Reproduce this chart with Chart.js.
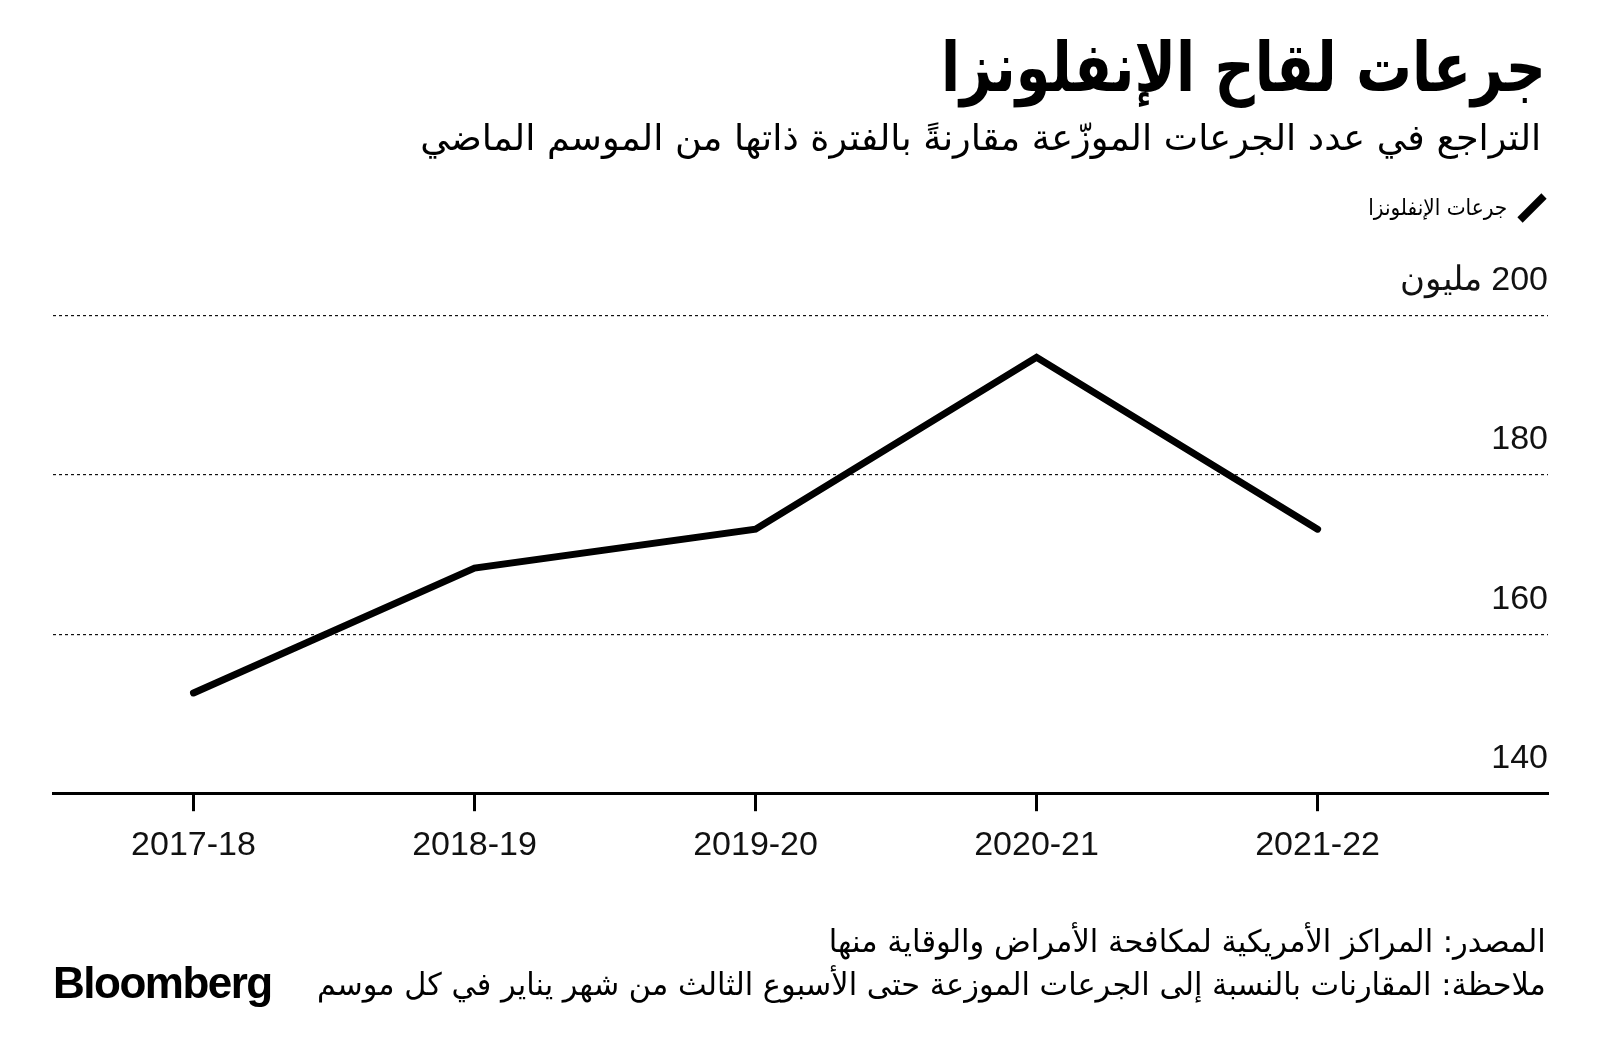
<!DOCTYPE html>
<html lang="ar">
<head>
<meta charset="utf-8">
<script src="https://cdn.jsdelivr.net/npm/chart.js@4.4.1/dist/chart.umd.min.js"></script>
<style>
  html, body { margin: 0; padding: 0; background: #fff; }
  body { width: 1600px; height: 1064px; position: relative; overflow: hidden; font-family: "DejaVu Sans", sans-serif; color: #000; }
  #wrap { position: absolute; left: 0; top: 0; width: 1600px; height: 1064px; }
  .t { position: absolute; direction: rtl; white-space: nowrap; transform-origin: right center; }
  #title { right: 54px; top: 25px; font-size: 68px; font-weight: bold; line-height: 86px; }
  #subtitle { right: 59px; top: 115px; font-size: 36px; line-height: 46px; }
  #legend { right: 93px; top: 195px; font-size: 22px; line-height: 26px; }
  #legicon { position: absolute; left: 1516px; top: 192px; width: 32px; height: 32px; }
  #src { right: 54px; top: 922px; font-size: 31px; line-height: 38px; }
  #note { right: 54px; top: 965px; font-size: 31px; line-height: 38px; }
  #logo { position: absolute; left: 53px; top: 958px; font-family: "Liberation Sans", Arial, sans-serif; font-weight: bold; font-size: 44px; letter-spacing: -1.5px; line-height: 50px; }
</style>
</head>
<body>
<div id="wrap"><canvas id="c" width="1600" height="1064" dir="rtl"></canvas></div>
<div class="t" id="title" data-w="605">جرعات لقاح الإنفلونزا</div>
<div class="t" id="subtitle" data-w="1121">التراجع في عدد الجرعات الموزّعة مقارنةً بالفترة ذاتها من الموسم الماضي</div>
<svg id="legicon" viewBox="0 0 32 32"><line x1="4" y1="28" x2="28" y2="4" stroke="#000" stroke-width="7.5"/></svg>
<div class="t" id="legend" data-w="139">جرعات الإنفلونزا</div>
<div class="t" id="src" data-w="717">المصدر: المراكز الأمريكية لمكافحة الأمراض والوقاية منها</div>
<div class="t" id="note" data-w="1229">ملاحظة: المقارنات بالنسبة إلى الجرعات الموزعة حتى الأسبوع الثالث من شهر يناير في كل موسم</div>
<div id="logo">Bloomberg</div>
<script>
const seasons = ["2017-18", "2018-19", "2019-20", "2020-21", "2021-22"];
const fluDoses = [152.6, 168.3, 173.2, 194.8, 173.2];
const yTickValues = [140, 160, 180, 200];
const yTickLabels = ["140", "160", "180", "200 مليون"];

// fit text widths to the reference
document.querySelectorAll('.t[data-w]').forEach(el => {
  const w = el.getBoundingClientRect().width;
  const target = parseFloat(el.dataset.w);
  if (w > 0) el.style.transform = 'scaleX(' + (target / w).toFixed(4) + ')';
});

const points = seasons.map((s, i) => ({ x: i, y: fluDoses[i] }));

new Chart(document.getElementById('c'), {
  type: 'line',
  data: {
    datasets: [{
      label: 'جرعات الإنفلونزا',
      data: points,
      borderColor: '#000',
      borderWidth: 7,
      pointRadius: 0,
      borderCapStyle: 'round',
      borderJoinStyle: 'miter',
      tension: 0
    }]
  },
  options: {
    responsive: false,
    animation: false,
    devicePixelRatio: 1,
    layout: { padding: { left: 53, right: 52, top: 316, bottom: 184 } },
    plugins: { legend: { display: false }, tooltip: { enabled: false }, title: { display: false } },
    scales: {
      x: {
        type: 'linear',
        min: -0.5,
        max: 4.82,
        afterBuildTicks: (axis) => { axis.ticks = seasons.map((s, i) => ({ value: i })); },
        ticks: {
          callback: (v) => seasons[v] !== undefined ? seasons[v] : '',
          color: '#111',
          font: { family: '"Liberation Sans", Arial, sans-serif', size: 34 },
          padding: 14,
          maxRotation: 0,
          autoSkip: false
        },
        grid: { display: true, drawOnChartArea: false, drawTicks: true, tickLength: 18, tickWidth: 3, tickColor: '#000', color: '#000' },
        border: { display: true, color: '#000', width: 3 }
      },
      y: {
        position: 'right',
        min: 140,
        max: 200,
        afterBuildTicks: (axis) => { axis.ticks = yTickValues.map(v => ({ value: v })); },
        ticks: {
          mirror: true,
          padding: 0,
          labelOffset: -35,
          callback: (v) => { const i = yTickValues.indexOf(v); return i >= 0 ? yTickLabels[i] : ''; },
          color: '#111',
          font: { family: '"Liberation Sans", Arial, sans-serif', size: 34 }
        },
        grid: { drawTicks: false, color: '#111', lineWidth: 1.2 },
        border: { display: false, dash: [3, 3] }
      }
    }
  }
});
</script>
</body>
</html>
